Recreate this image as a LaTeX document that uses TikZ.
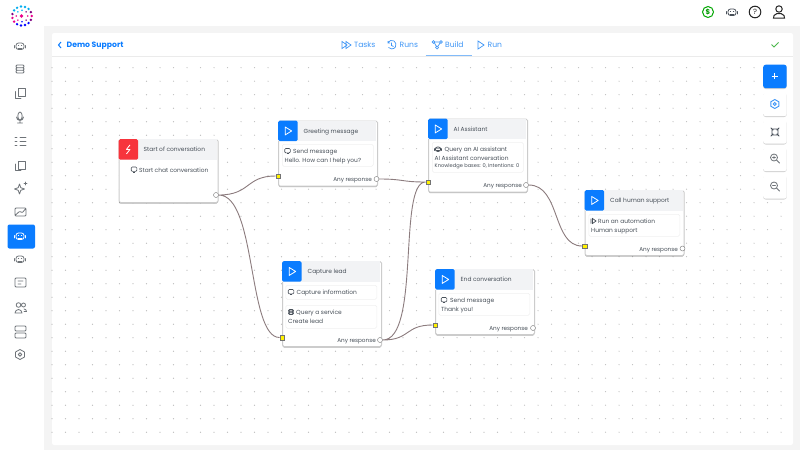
\documentclass[tikz,border=0pt]{standalone}
\usepackage{fontspec}
\usepackage[dvipsnames]{xcolor}
\setmainfont{Poppins}
\usetikzlibrary{shadows,calc}
\definecolor{flowblue}{HTML}{0A7CFF}
\definecolor{tabblue}{HTML}{3F96F6}
\definecolor{flowred}{HTML}{F7343C}
\definecolor{headgrey}{HTML}{F2F3F5}
\definecolor{pagegrey}{HTML}{F4F4F4}
\definecolor{linkgrey}{HTML}{8C7C7E}
\definecolor{inkgrey}{HTML}{474F58}
\definecolor{icongrey}{HTML}{6E7378}
\tikzset{
    cardbox/.style={draw=black!20,line width=1pt,fill=white,rounded corners=1.5pt,anchor=north west,minimum width=99pt,inner sep=0pt,
        drop shadow={shadow xshift=0pt,shadow yshift=-1.2pt,opacity=0.3,fill=black}},
    headbox/.style={fill=headgrey,anchor=north west,minimum width=98pt,minimum height=20.5pt,inner sep=0pt},
    iconbox/.style={rounded corners=1.5pt,anchor=north west,minimum width=19.5pt,minimum height=20.5pt,inner sep=0pt},
    innerbox/.style={draw=black!6,line width=0.5pt,fill=white,rounded corners=1.5pt,anchor=north west,minimum width=91pt,inner sep=0pt},
    headtext/.style={font=\fontsize{5.9}{7}\selectfont,text=inkgrey,anchor=west,inner sep=0pt,text height=5.6pt,text depth=0.4pt},
    cardtext/.style={headtext},
    smalltext/.style={headtext,font=\fontsize{5.1}{6}\selectfont},
    resptext/.style={headtext,anchor=east,font=\fontsize{5.7}{7}\selectfont},
    tabtext/.style={font=\fontsize{7.6}{9}\selectfont,text=tabblue,anchor=west,inner sep=0pt,text height=6.4pt,text depth=1.4pt},
    portin/.style={draw=black!55,line width=0.4pt,fill=yellow,minimum size=4.5pt,inner sep=0pt},
    portout/.style={circle,draw=black!55,line width=0.4pt,fill=white,minimum size=5pt,inner sep=0pt},
    link/.style={draw=linkgrey,line width=0.9pt},
    toolbtn/.style={fill=white,rounded corners=2.5pt,anchor=north west,minimum width=23.5pt,minimum height=23.5pt,inner sep=0pt,
        drop shadow={shadow xshift=0pt,shadow yshift=-0.8pt,opacity=0.18,fill=black}},
    icn/.style={draw=icongrey,line width=0.8pt,line cap=round,line join=round},
    msgicon/.pic={\draw[draw=inkgrey,line width=0.6pt,rounded corners=1pt] (-2.8,-2.5) rectangle (2.8,1.8);
        \draw[draw=inkgrey,line width=0.6pt] (-1,2.6) -- (1,2.6);},
    roboticon/.pic={\draw[icn,#1,rounded corners=2.5pt] (-4,-3) rectangle (4,3.5);
        \draw[icn,#1] (-5.3,-0.5) -- (-5.3,2) (5.3,-0.5) -- (5.3,2) (-2,2) -- (2,2);
        \draw[icn,#1,line width=1.1pt] (-1.7,-0.5) -- (-1.4,-0.5) (1.4,-0.5) -- (1.7,-0.5);},
    dbicon/.pic={\draw[icn,#1,rounded corners=1pt] (-4,-4) rectangle (4,-1.3) (-4,-1.3) rectangle (4,1.3) (-4,1.3) rectangle (4,4);},
}
\begin{document}
\begin{tikzpicture}[x=1pt,y=-1pt]
    \useasboundingbox (0,0) rectangle (800,450);
    % page parts
    \fill[pagegrey] (0,0) rectangle (800,450);
    \fill[white] (0,0) rectangle (800,26);
    \fill[white] (0,0) rectangle (44,450);
    \fill[white,rounded corners=2pt] (52,33) rectangle (793,445);
    \draw[black!8,line width=0.7pt] (52,56) -- (793,56);
    \foreach \x in {0,...,54}
        \foreach \y in {0,...,27}
            \fill[black!28] ({52+13.5*\x},{67.7+13.5*\y}) circle (0.55);

    % logo
    \foreach \a/\c in {0/magenta,24/violet,48/blue,72/blue,96/blue,120/blue,144/magenta,168/magenta,192/violet,216/cyan,240/cyan,264/cyan,288/cyan,312/cyan,336/violet}
        \fill[\c] ({22+9.8*cos(\a)},{16+9.5*sin(\a)}) circle (1.35);
    \foreach \a/\c in {0/magenta,45/violet,90/blue,135/magenta,180/magenta,225/cyan,270/cyan,315/violet}
        \fill[\c] ({22+5.8*cos(\a)},{16+5.8*sin(\a)}) circle (0.85);
    \fill[magenta] (21.5,16) circle (1.8);

    % side menu
    \fill[flowblue,rounded corners=2pt] (7.5,224.5) rectangle (35,248.5);
    \path (20,46) pic {roboticon};
    \path (20,69) pic {dbicon};
    \draw[icn] (18,88.5) rectangle (25.5,96) (15.5,91.5) -- (15.5,98) -- (21,98);
    \draw[icn] (20,116) ellipse (2.2 and 4) (16.5,117) arc (180:0:3.5) (20,120.5) -- (20,123) (17.5,123) -- (22.5,123);
    \draw[icn] (20,137) -- (26,137) (20,141) -- (26,141) (20,145) -- (26,145) (15,137) -- (17,137) (15,141) -- (17,141) (15,145) -- (17,145);
    \draw[icn] (18,161) rectangle (25,169) (15.5,164) -- (15.5,170.5) -- (21,170.5);
    \draw[icn] (19.5,184) -- (20.8,187.7) -- (24.5,189) -- (20.8,190.3) -- (19.5,194) -- (18.2,190.3) -- (14.5,189) -- (18.2,187.7) -- cycle (25.5,182) -- (25.5,185) (24,183.5) -- (27,183.5);
    \draw[icn,rounded corners=1pt] (15,208) rectangle (26,216) (16,214.5) -- (20,211) -- (22,213) -- (25,209.5);
    \path (20,236) pic {roboticon={draw=white}};
    \path (20,259) pic {roboticon};
    \draw[icn,rounded corners=1pt] (15,278) rectangle (26,287) (18,281) -- (23,281) (18,284) -- (21,284);
    \draw[icn] (18.5,305) circle (2.3) (23.5,305) circle (2) (15,313) arc (180:360:3.5) -- cycle (24,309) arc (270:360:2.5) -- (24,311.5);
    \draw[icn,rounded corners=1pt] (15,326) rectangle (26,331) (15,333) rectangle (26,338);
    \draw[icn] (20,354.5) circle (1.8) (20,349.5) -- (24.5,352) -- (24.5,357) -- (20,359.5) -- (15.5,357) -- (15.5,352) -- cycle;

    % top right icons
    \draw[draw=green!65!black,line width=1pt] (708,12) circle (5.5);
    \node[font=\fontsize{7}{8}\selectfont\bfseries,text=green!60!black,inner sep=0pt] (dollar) at (708,12) {\$};
    \path (732,12) pic {roboticon={draw=inkgrey}};
    \draw[draw=black!85,line width=1pt] (755,12) circle (5.8);
    \node[font=\fontsize{7.5}{8}\selectfont,text=black!85,inner sep=0pt] (helpmark) at (755,12) {?};
    \draw[draw=black!85,line width=1pt] (779,9) circle (3.2) (773.5,18) -- (784.5,18) -- (784,15.5) -- (781,13.5) -- (777,13.5) -- (774,15.5) -- cycle;

    % header row
    \draw[draw=flowblue,line width=1pt] (61,42) -- (58.5,45) -- (61,48);
    \node[font=\fontsize{7.7}{9}\selectfont\bfseries,text=flowblue,anchor=west,inner sep=0pt,text height=6.4pt,text depth=1.4pt] (demo) at (66.5,45) {Demo Support};
    \draw[draw=green!60!black!70,line width=0.8pt] (771.5,44.5) -- (774,47) -- (778.5,42.5);
    \node[tabtext] (tasks) at (354,45) {Tasks};
    \node[tabtext] (runs) at (399.5,45) {Runs};
    \node[tabtext] (build) at (445,45) {Build};
    \node[tabtext] (run) at (487.5,45) {Run};
    \draw[tabblue,line width=0.7pt] (342,41.5) -- (347,45) -- (342,48.5) -- cycle (346,41.5) -- (351,45) -- (346,48.5) -- cycle;
    \draw[tabblue,line width=0.7pt] (388,42.5) arc (210:500:4.3) (388,41) -- (388,43) -- (390,43) (391.5,42.5) -- (391.5,45.5) -- (393.5,46.5);
    \draw[tabblue,line width=0.7pt] (433.5,42) circle (1.3) (441,42) circle (1.3) (437,47.5) circle (1.5) (434.5,43) -- (436.3,46.3) (440,43) -- (438,46.3) (434.8,42) -- (439.7,42);
    \draw[tabblue,line width=0.7pt] (478,41) -- (484,45) -- (478,49) -- cycle;
    \draw[draw=tabblue!65,line width=1.2pt] (425.5,55.8) -- (472,55.8);

    % tool buttons
    \node[toolbtn,fill=flowblue] (addbtn) at (763,64.5) {};
    \node[toolbtn] (setbtn) at (763,92.5) {};
    \node[toolbtn] (fitbtn) at (763,120) {};
    \node[toolbtn] (inbtn) at (763,147.5) {};
    \node[toolbtn] (outbtn) at (763,175) {};
    \draw[white,line width=0.9pt] (771.5,76) -- (778,76) (774.8,72.8) -- (774.8,79.2);
    \draw[tabblue,line width=0.9pt] (774.8,104) circle (1.5) (774.8,99.5) -- (778.8,101.8) -- (778.8,106.2) -- (774.8,108.5) -- (770.8,106.2) -- (770.8,101.8) -- cycle;
    \draw[icn,draw=inkgrey] (772,129) rectangle (778,135) (771,128) -- (773,130) (779,128) -- (777,130) (771,136) -- (773,134) (779,136) -- (777,134);
    \draw[icn] (774,157.5) circle (3.5) (776.8,160.3) -- (779.5,163) (772.5,157.5) -- (775.5,157.5) (774,156) -- (774,159);
    \draw[icn] (774,185.5) circle (3.5) (776.8,188.3) -- (779.5,191) (772.5,185.5) -- (775.5,185.5);

    % cards
    \node[cardbox,minimum height=63pt] (start) at (118.5,139) {};
    \node[cardbox,minimum height=65pt] (greeting) at (278,120.5) {};
    \node[cardbox,minimum height=73pt] (assistant) at (428,118.5) {};
    \node[cardbox,minimum height=65pt] (human) at (584.5,190) {};
    \node[cardbox,minimum height=85pt] (capture) at (282,261) {};
    \node[cardbox,minimum height=65pt] (finish) at (435,269) {};

    \node[headbox] (starthead) at (start.north west) {};
    \node[headbox] (greetinghead) at (greeting.north west) {};
    \node[headbox] (assistanthead) at (assistant.north west) {};
    \node[headbox] (humanhead) at (human.north west) {};
    \node[headbox] (capturehead) at (capture.north west) {};
    \node[headbox] (finishhead) at (finish.north west) {};

    \node[iconbox,fill=flowred] (starticon) at (start.north west) {};
    \node[iconbox,fill=flowblue] (greetingicon) at (greeting.north west) {};
    \node[iconbox,fill=flowblue] (assistanticon) at (assistant.north west) {};
    \node[iconbox,fill=flowblue] (humanicon) at (human.north west) {};
    \node[iconbox,fill=flowblue] (captureicon) at (capture.north west) {};
    \node[iconbox,fill=flowblue] (finishicon) at (finish.north west) {};

    \draw[white,line width=0.8pt,line join=round] ($(starticon.center)+(1.5,-4.5)$) -- ++(-3.5,4.5) -- ++(3.5,0) -- ++(-3.5,4.5);
    \foreach \n in {greetingicon,assistanticon,humanicon,captureicon,finishicon}
        \draw[white,line width=0.8pt,line join=round] ($(\n.center)+(-2.8,-4)$) -- ++(6.5,4) -- ++(-6.5,4) -- cycle;

    \node[headtext] (starttitle) at (143.5,149) {Start of conversation};
    \node[headtext] (greetingtitle) at (303.5,130.5) {Greeting message};
    \node[headtext] (assistanttitle) at (453.5,128.5) {AI Assistant};
    \node[headtext] (humantitle) at (610,200) {Call human support};
    \node[headtext] (capturetitle) at (307.5,271) {Capture lead};
    \node[headtext] (finishtitle) at (460.5,279) {End conversation};

    \node[innerbox,minimum height=22pt] (greetinginner) at (282,144) {};
    \node[innerbox,minimum height=30pt] (assistantinner) at (432,142) {};
    \node[innerbox,minimum height=22pt] (humaninner) at (588.5,214) {};
    \node[innerbox,minimum height=14pt] (captureinnera) at (285.5,285) {};
    \node[innerbox,minimum height=23pt] (captureinnerb) at (285.5,305) {};
    \node[innerbox,minimum height=22pt] (finishinner) at (438.5,293) {};

    % card texts
    \path (134,169.5) pic {msgicon};
    \node[cardtext] (startline) at (139,169.5) {Start chat conversation};
    \path (287.5,151) pic {msgicon};
    \node[cardtext] (greetinga) at (293,151) {Send message};
    \node[cardtext] (greetingb) at (284.5,159.5) {Hello. How can I help you?};
    \path (438,149) pic[scale=0.7] {roboticon={draw=inkgrey}};
    \node[cardtext] (assistanta) at (444.5,149) {Query an AI assistant};
    \node[cardtext] (assistantb) at (434.5,157.5) {AI Assistant conversation};
    \node[smalltext] (assistantc) at (434.5,165) {Knowledge bases: 0, Intentions: 0};
    \draw[draw=inkgrey,line width=0.7pt] (591,218.5) -- (591,223.5) (592.5,218.5) -- (596,221) -- (592.5,223.5) -- cycle;
    \node[cardtext] (humana) at (598,221) {Run an automation};
    \node[cardtext] (humanb) at (591,229.5) {Human support};
    \path (291,292) pic {msgicon};
    \node[cardtext] (capturea) at (296.5,292) {Capture information};
    \path (291,312) pic[scale=0.6] {dbicon={draw=inkgrey}};
    \node[cardtext] (captureb) at (296,312) {Query a service};
    \node[cardtext] (capturec) at (288,320.5) {Create lead};
    \path (444,300) pic {msgicon};
    \node[cardtext] (finisha) at (450,300) {Send message};
    \node[cardtext] (finishb) at (441,308.5) {Thank you!};

    \node[resptext] (greetingresp) at (372,179) {Any response};
    \node[resptext] (assistantresp) at (522,184.5) {Any response};
    \node[resptext] (humanresp) at (678,248.5) {Any response};
    \node[resptext] (captureresp) at (376,340) {Any response};
    \node[resptext] (finishresp) at (528,328) {Any response};

    % connectors
    \node[portout] (startout) at (216,195) {};
    \node[portin] (greetingin) at (278,176) {};
    \node[portout] (greetingout) at (376.5,179) {};
    \node[portin] (assistantin) at (428,182) {};
    \node[portout] (assistantout) at (526,185) {};
    \node[portin] (humanin) at (584.5,246) {};
    \node[portout] (humanout) at (682.5,248.5) {};
    \node[portin] (capturein) at (282,337.5) {};
    \node[portout] (captureout) at (380,340) {};
    \node[portin] (finishin) at (435,325) {};
    \node[portout] (finishout) at (533,328) {};

    \path[link]
    (startout.east) .. controls +(32,0) and +(-30,0) .. (greetingin.west)
    (startout.east) .. controls +(38,0) and +(-32,0) .. (capturein.west)
    (greetingout.east) .. controls +(25,0) and +(-25,0) .. (assistantin.west)
    (captureout.east) .. controls +(38,0) and +(-28,0) .. (assistantin.west)
    (captureout.east) .. controls +(28,0) and +(-28,0) .. (finishin.west)
    (assistantout.east) .. controls +(32,0) and +(-30,0) .. (humanin.west);
\end{tikzpicture}
\end{document}
